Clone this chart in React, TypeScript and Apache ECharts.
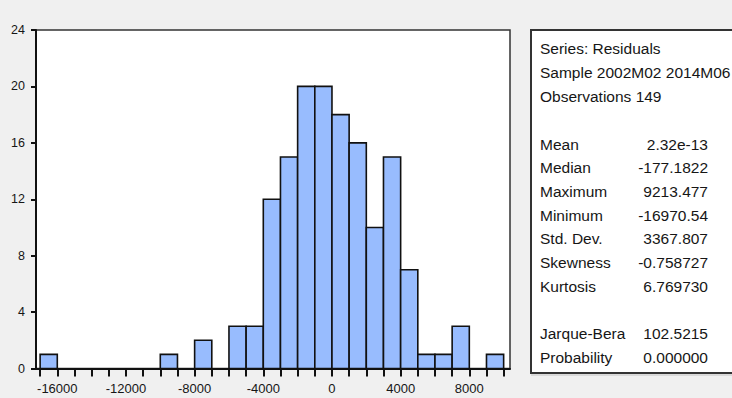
import React, { useEffect, useRef } from "react";
import * as echarts from "echarts";

// Residual histogram: bins of width 1000
const binWidth = 1000;
const binStarts = [
  -17000, -16000, -15000, -14000, -13000, -12000, -11000, -10000, -9000, -8000,
  -7000, -6000, -5000, -4000, -3000, -2000, -1000, 0, 1000, 2000,
  3000, 4000, 5000, 6000, 7000, 8000, 9000,
];
const counts = [
  1, 0, 0, 0, 0, 0, 0, 1, 0, 2,
  0, 3, 3, 12, 15, 20, 20, 18, 16, 10,
  15, 7, 1, 1, 3, 0, 1,
];

const xTickValues = [
  -17000, -16000, -15000, -14000, -13000, -12000, -11000, -10000, -9000, -8000,
  -7000, -6000, -5000, -4000, -3000, -2000, -1000, 0, 1000, 2000,
  3000, 4000, 5000, 6000, 7000, 8000, 9000, 10000,
];
const xLabelValues = [-16000, -12000, -8000, -4000, 0, 4000, 8000];

// Descriptive statistics panel
const headerLines = ["Series: Residuals", "Sample 2002M02 2014M06", "Observations 149"];
const statNames = ["Mean", "Median", "Maximum", "Minimum", "Std. Dev.", "Skewness", "Kurtosis", "", "Jarque-Bera", "Probability"];
const statValues = ["2.32e-13", "-177.1822", "9213.477", "-16970.54", "3367.807", "-0.758727", "6.769730", "", "102.5215", "0.000000"];

const FONT = "'Liberation Sans', Arial, sans-serif";
const BAR_FILL = "#98bcfe";
const TEXT = "#161616";

export default function App() {
  const ref = useRef<HTMLDivElement>(null);

  useEffect(() => {
    if (!ref.current) return;
    const chart = echarts.init(ref.current, null, { renderer: "svg" });

    const histData = binStarts
      .map((s, i) => [s, s + binWidth, counts[i]])
      .filter((d) => d[2] > 0);

    const panelX = 531;
    const panelY = 30;
    const textX = 540;
    const valueX = 708;
    const headerY0 = 48;
    const statY0 = 144;
    const lineH = 23.7;

    const textStyle = (text: string, align: string) => ({
      text,
      fontFamily: FONT,
      fontSize: 15.5,
      fill: TEXT,
      verticalAlign: "middle",
      align,
    });

    const graphics: any[] = [
      {
        type: "rect",
        shape: { x: panelX, y: panelY + 2, width: 210, height: 344 },
        style: { fill: "#d9d9d9" },
        silent: true,
      },
      {
        type: "rect",
        shape: { x: panelX, y: panelY, width: 210, height: 343 },
        style: { fill: "#ffffff", stroke: "#333333", lineWidth: 2 },
        silent: true,
      },
    ];
    headerLines.forEach((t, i) => {
      graphics.push({ type: "text", x: textX, y: headerY0 + i * 24, style: textStyle(t, "left") });
    });
    statNames.forEach((name, i) => {
      if (!name) return;
      const y = statY0 + i * lineH;
      graphics.push({ type: "text", x: textX, y, style: textStyle(name, "left") });
      graphics.push({ type: "text", x: valueX, y, style: textStyle(statValues[i], "right") });
    });

    chart.setOption({
      animation: false,
      backgroundColor: "#f0f0f0",
      grid: {
        left: 36,
        right: 222,
        top: 30,
        bottom: 29.5,
        show: true,
        backgroundColor: "#ffffff",
        borderColor: "#333333",
        borderWidth: 1.5,
      },
      xAxis: {
        type: "value",
        min: -17240,
        max: 10370,
        axisLine: { show: true, onZero: false, lineStyle: { color: "#111", width: 2 } },
        axisTick: { show: true, length: 8, customValues: xTickValues, lineStyle: { color: "#111", width: 2 } },
        axisLabel: {
          customValues: xLabelValues,
          formatter: (v: number) => String(v),
          margin: 13,
          fontFamily: FONT,
          fontSize: 13,
          color: TEXT,
        },
        splitLine: { show: false },
      },
      yAxis: {
        type: "value",
        min: 0,
        max: 24,
        interval: 4,
        axisLine: { show: true, onZero: false, lineStyle: { color: "#111", width: 2 } },
        axisTick: { show: true, length: 5, lineStyle: { color: "#111", width: 2 } },
        axisLabel: { margin: 11, fontFamily: FONT, fontSize: 12.5, color: TEXT },
        splitLine: { show: false },
      },
      series: [
        {
          type: "custom",
          data: histData,
          encode: { x: [0, 1], y: 2 },
          renderItem: (_params: any, api: any) => {
            const p0 = api.coord([api.value(0), api.value(2)]);
            const p1 = api.coord([api.value(1), 0]);
            return {
              type: "rect",
              shape: { x: p0[0], y: p0[1], width: p1[0] - p0[0], height: p1[1] - p0[1] },
              style: { fill: BAR_FILL, stroke: "#111", lineWidth: 1.6 },
            };
          },
        },
      ],
      graphic: graphics,
    });

    return () => chart.dispose();
  }, []);

  return (
    <div
      ref={ref}
      style={{ position: "absolute", left: 0, top: 0, width: 732, height: 398, background: "#f0f0f0" }}
    />
  );
}
